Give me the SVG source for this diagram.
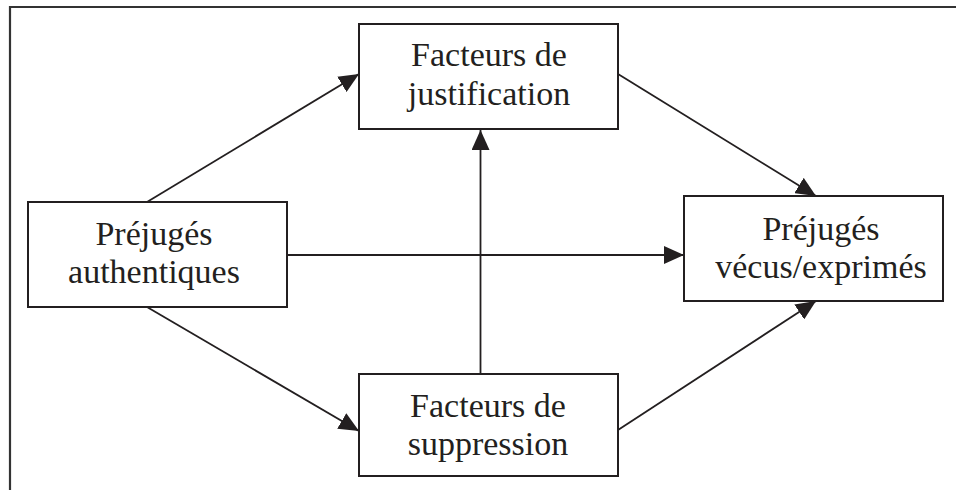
<svg xmlns="http://www.w3.org/2000/svg" width="956" height="490" viewBox="0 0 956 490">
<style>
.box{fill:#fff;stroke:#231f20;stroke-width:2}
.ln{stroke:#231f20;stroke-width:1.8;fill:none}
.t{font-family:"Liberation Serif","Times New Roman",serif;font-size:34px;fill:#231f20;text-anchor:middle}
</style>
<defs>
<marker id="ah" viewBox="0 0 20 18" refX="20" refY="9" markerWidth="20" markerHeight="18" markerUnits="userSpaceOnUse" orient="auto">
<path d="M0,0 L20,9 L0,18 Z" fill="#231f20"/>
</marker>
</defs>
<rect width="956" height="490" fill="#fff"/>
<path d="M10,490 L10,7 L956,7" fill="none" stroke="#333" stroke-width="2.2"/>
<g id="connectors">
<line class="ln" x1="147" y1="202" x2="359" y2="74" marker-end="url(#ah)"/>
<line class="ln" x1="147" y1="307" x2="359" y2="431" marker-end="url(#ah)"/>
<line class="ln" x1="287" y1="255" x2="684" y2="255" marker-end="url(#ah)"/>
<line class="ln" x1="480.5" y1="374" x2="480.5" y2="130" marker-end="url(#ah)"/>
<line class="ln" x1="618" y1="74" x2="816" y2="196" marker-end="url(#ah)"/>
<line class="ln" x1="618" y1="430" x2="816" y2="301" marker-end="url(#ah)"/>
</g>
<g id="justification">
<rect class="box" x="359" y="24" width="259" height="105"/>
<text class="t" x="489" y="66">Facteurs de</text>
<text class="t" x="489" y="105">justification</text>
</g>
<g id="authentiques">
<rect class="box" x="28" y="202" width="259" height="105"/>
<text class="t" x="154" y="245">Préjugés</text>
<text class="t" x="154" y="283">authentiques</text>
</g>
<g id="exprimes">
<rect class="box" x="684" y="196" width="259" height="105"/>
<text class="t" x="821" y="240">Préjugés</text>
<text class="t" x="821" y="278">vécus/exprimés</text>
</g>
<g id="suppression">
<rect class="box" x="359" y="374" width="259" height="102"/>
<text class="t" x="488" y="417">Facteurs de</text>
<text class="t" x="488" y="455">suppression</text>
</g>
</svg>
